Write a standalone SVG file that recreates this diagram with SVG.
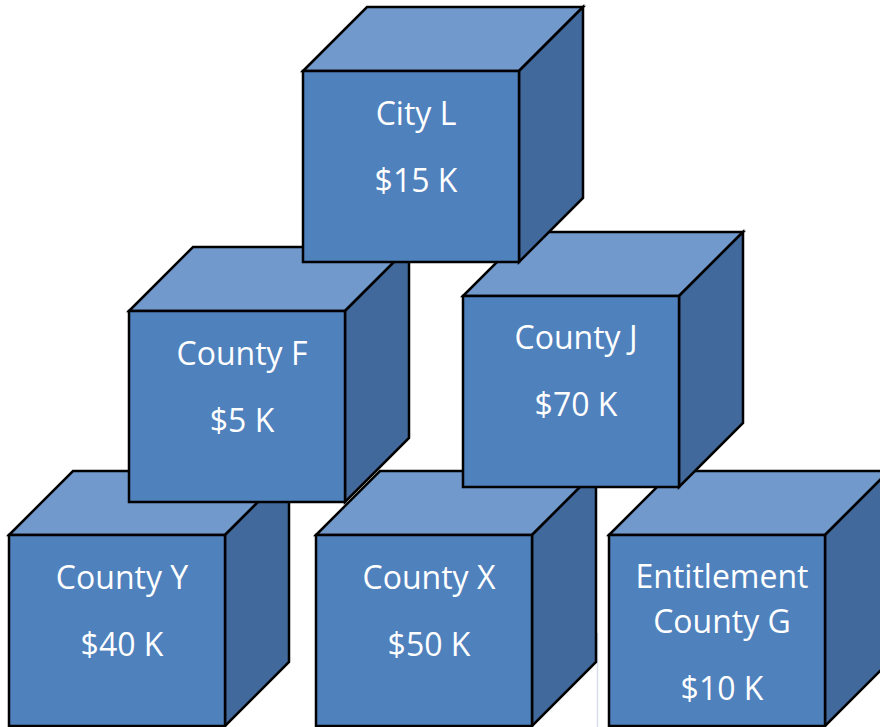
<svg xmlns="http://www.w3.org/2000/svg" width="880" height="727" viewBox="0 0 880 727">
<style>
.top{fill:#7199CC;stroke:#000;stroke-width:2.5;stroke-linejoin:miter}
.side{fill:#41699B;stroke:#000;stroke-width:2.5;stroke-linejoin:miter}
.front{fill:#4F81BD;stroke:#000;stroke-width:2.5}
.lbl{font-family:"Open Sans","Noto Sans","Liberation Sans",sans-serif;font-size:32px;fill:#fff;text-anchor:middle}
</style>
<rect width="880" height="727" fill="#fff"/>
<line x1="597.5" y1="633" x2="597.5" y2="727" stroke="#D8DEE9" stroke-width="1.5"/>
<g id="connectors"/>
<g id="county-y" transform="translate(9,535)">
<path class="top" d="M0,0 L64,-64 L280,-64 L216,0 Z"/>
<path class="side" d="M216,0 L280,-64 L280,127 L216,191 Z"/>
<rect class="front" x="0" y="0" width="216" height="191"/>
<text class="lbl" x="113" y="54">County Y</text>
<text class="lbl" x="113" y="121">$40 K</text>
</g>
<g id="county-x" transform="translate(316,535)">
<path class="top" d="M0,0 L64,-64 L280,-64 L216,0 Z"/>
<path class="side" d="M216,0 L280,-64 L280,127 L216,191 Z"/>
<rect class="front" x="0" y="0" width="216" height="191"/>
<text class="lbl" x="113" y="54">County X</text>
<text class="lbl" x="113" y="121">$50 K</text>
</g>
<g id="county-g" transform="translate(609,535)">
<path class="top" d="M0,0 L64,-64 L280,-64 L216,0 Z"/>
<path class="side" d="M216,0 L280,-64 L280,127 L216,191 Z"/>
<rect class="front" x="0" y="0" width="216" height="191"/>
<text class="lbl" x="113" y="53">Entitlement</text>
<text class="lbl" x="113" y="98">County G</text>
<text class="lbl" x="113" y="165">$10 K</text>
</g>
<g id="county-f" transform="translate(129,311)">
<path class="top" d="M0,0 L64,-64 L280,-64 L216,0 Z"/>
<path class="side" d="M216,0 L280,-64 L280,127 L216,191 Z"/>
<rect class="front" x="0" y="0" width="216" height="191"/>
<text class="lbl" x="113" y="54">County F</text>
<text class="lbl" x="113" y="121">$5 K</text>
</g>
<g id="county-j" transform="translate(463,296)">
<path class="top" d="M0,0 L64,-64 L280,-64 L216,0 Z"/>
<path class="side" d="M216,0 L280,-64 L280,127 L216,191 Z"/>
<rect class="front" x="0" y="0" width="216" height="191"/>
<text class="lbl" x="113" y="53">County J</text>
<text class="lbl" x="113" y="120">$70 K</text>
</g>
<g id="city-l" transform="translate(303,71)">
<path class="top" d="M0,0 L64,-64 L280,-64 L216,0 Z"/>
<path class="side" d="M216,0 L280,-64 L280,127 L216,191 Z"/>
<rect class="front" x="0" y="0" width="216" height="191"/>
<text class="lbl" x="113" y="54">City L</text>
<text class="lbl" x="113" y="121">$15 K</text>
</g>
</svg>
